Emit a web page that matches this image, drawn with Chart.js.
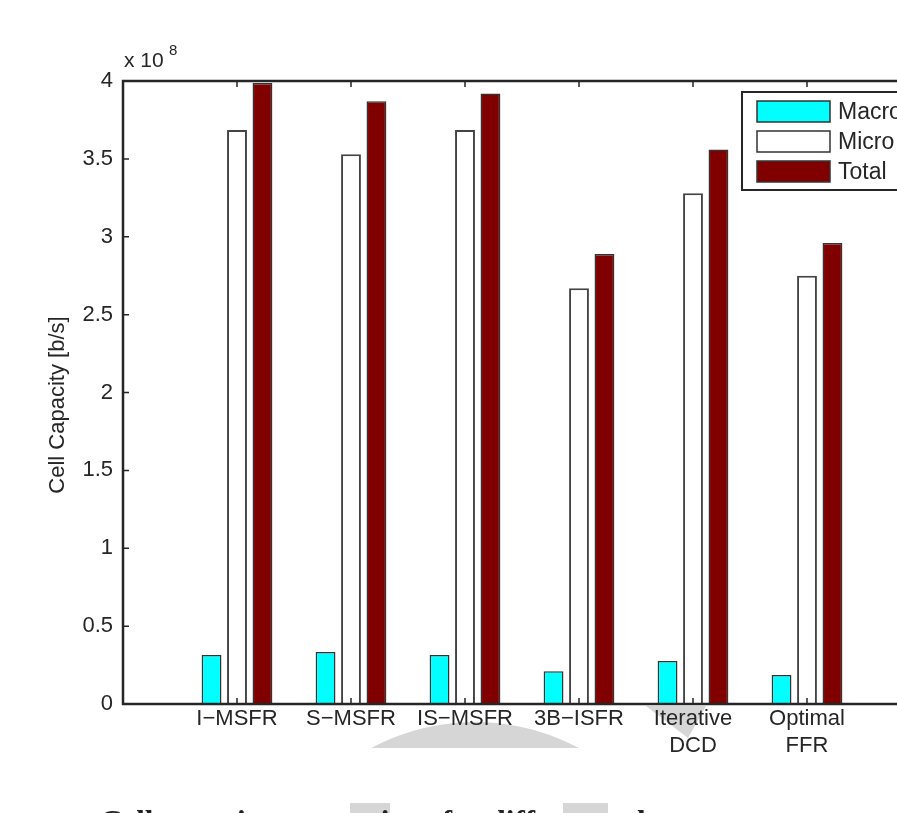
<!DOCTYPE html>
<html>
<head>
<meta charset="utf-8">
<script src="https://cdn.jsdelivr.net/npm/chart.js@4.4.1/dist/chart.umd.min.js"></script>
<style>
  html, body { margin: 0; padding: 0; background: #fff; width: 897px; height: 813px; overflow: hidden; }
  #wrap { position: relative; width: 960px; height: 813px; overflow: hidden; }
  #chart { position: absolute; left: 0; top: 0; }
  #caption { position: absolute; left: 100px; top: 806px; font: bold 31px/31px "Liberation Serif", serif; color: #222; white-space: nowrap; }
</style>
</head>
<body>
<div id="wrap">
  <canvas id="chart" width="960" height="813"></canvas>
  <div id="caption">Cell capacity comparison for different schemes</div>
</div>
<script>
// values in units of 1e8 b/s
const categories = ["I\u2212MSFR", "S\u2212MSFR", "IS\u2212MSFR", "3B\u2212ISFR", ["Iterative", "DCD"], ["Optimal", "FFR"]];
const macro = [0.315, 0.334, 0.315, 0.21, 0.276, 0.186];
const micro = [3.685, 3.53, 3.685, 2.67, 3.28, 2.75];
const total = [3.987, 3.87, 3.92, 2.89, 3.56, 2.96];
const yTicks = [0, 0.5, 1, 1.5, 2, 2.5, 3, 3.5, 4];
const seriesNames = ["Macro", "Micro", "Total"];
const seriesColors = ["#00ffff", "#ffffff", "#800000"];

const FONT = "Liberation Sans, Arial, sans-serif";
const INK = "#262626";
const FS = 22;

// pad with an empty slot at each end so the axis runs 0..7 like the original
const pad = arr => [null, ...arr, null];
const labels = ["", ...categories, ""];

// faint grey watermark behind the lower labels (scan artefact in the original)
const watermarkPlugin = {
  id: "watermark",
  beforeDraw(chart) {
    const ctx = chart.ctx;
    ctx.save();
    ctx.fillStyle = "#d6d6d6";
    ctx.beginPath();
    ctx.rect(0, 706, 960, 42);
    ctx.clip();
    ctx.beginPath();
    ctx.arc(475, 942, 220, 0, Math.PI * 2);
    ctx.fill();
    ctx.restore();
    ctx.save();
    ctx.fillStyle = "#d6d6d6";
    ctx.beginPath();
    ctx.moveTo(646, 706); ctx.lineTo(706, 706); ctx.lineTo(688, 738);
    ctx.closePath();
    ctx.fill();
    ctx.fillRect(350, 803, 40, 10);
    ctx.fillRect(563, 803, 45, 10);
    ctx.restore();
  }
};

const framePlugin = {
  id: "frame",
  afterDatasetsDraw(chart) {
    const { ctx, chartArea: a, scales } = chart;
    ctx.save();
    ctx.strokeStyle = INK;
    ctx.lineWidth = 1.5;
    // ticks, pointing inward
    ctx.beginPath();
    for (let i = 1; i <= categories.length; i++) {
      const x = scales.x.getPixelForValue(i);
      ctx.moveTo(x, a.top); ctx.lineTo(x, a.top + 6);
      ctx.moveTo(x, a.bottom); ctx.lineTo(x, a.bottom - 6);
    }
    yTicks.forEach(v => {
      const y = scales.y.getPixelForValue(v);
      ctx.moveTo(a.left, y); ctx.lineTo(a.left + 6, y);
    });
    ctx.stroke();
    ctx.lineWidth = 2.5;
    ctx.strokeRect(a.left, a.top, a.right - a.left, a.bottom - a.top);

    // y title
    ctx.fillStyle = INK;
    ctx.font = FS + "px " + FONT;
    ctx.textAlign = "center";
    ctx.textBaseline = "middle";
    ctx.save();
    ctx.translate(58, 405);
    ctx.rotate(-Math.PI / 2);
    ctx.fillText("Cell Capacity [b/s]", 0, 0);
    ctx.restore();

    // exponent
    ctx.textAlign = "left";
    ctx.textBaseline = "alphabetic";
    ctx.font = "21px " + FONT;
    ctx.fillText("x 10", 124, 67);
    ctx.font = "15px " + FONT;
    ctx.fillText("8", 169, 55);

    // legend
    ctx.fillStyle = "#fff";
    ctx.fillRect(742, 92, 240, 98);
    ctx.lineWidth = 2;
    ctx.strokeStyle = INK;
    ctx.strokeRect(742, 92, 240, 98);
    const rows = [101, 131, 161];
    seriesNames.forEach((name, i) => {
      ctx.fillStyle = seriesColors[i];
      ctx.fillRect(757, rows[i], 73, 21);
      ctx.lineWidth = 1.5;
      ctx.strokeStyle = "#333";
      ctx.strokeRect(757, rows[i], 73, 21);
      ctx.fillStyle = INK;
      ctx.font = "23px " + FONT;
      ctx.textBaseline = "middle";
      ctx.fillText(name, 838, rows[i] + 12);
    });
    ctx.restore();
  }
};

new Chart(document.getElementById("chart"), {
  type: "bar",
  data: {
    labels: labels,
    datasets: [
      { label: seriesNames[0], data: pad(macro), backgroundColor: seriesColors[0], borderColor: "#333", borderWidth: 1.5 },
      { label: seriesNames[1], data: pad(micro), backgroundColor: seriesColors[1], borderColor: "#444", borderWidth: 2 },
      { label: seriesNames[2], data: pad(total), backgroundColor: seriesColors[2], borderColor: "#333", borderWidth: 1.5 }
    ]
  },
  options: {
    responsive: false,
    animation: false,
    devicePixelRatio: 1,
    categoryPercentage: 0.67,
    barPercentage: 0.78,
    layout: { padding: { left: 0, top: 81, right: 39, bottom: 0 } },
    plugins: { legend: { display: false }, tooltip: { enabled: false } },
    scales: {
      x: {
        offset: false,
        grid: { display: false, drawTicks: false },
        border: { display: false },
        ticks: {
          autoSkip: false,
          maxRotation: 0,
          padding: 1,
          color: INK,
          font: { family: FONT, size: FS, lineHeight: 1.25 }
        },
        afterFit: s => { s.height = 109; }
      },
      y: {
        min: 0,
        max: 4,
        grid: { display: false, drawTicks: false },
        border: { display: false },
        afterBuildTicks: s => { s.ticks = yTicks.map(v => ({ value: v })); },
        ticks: {
          padding: 10,
          color: INK,
          font: { family: FONT, size: FS },
          callback: v => String(v)
        },
        afterFit: s => { s.width = 123; }
      }
    }
  },
  plugins: [watermarkPlugin, framePlugin]
});
</script>
</body>
</html>
